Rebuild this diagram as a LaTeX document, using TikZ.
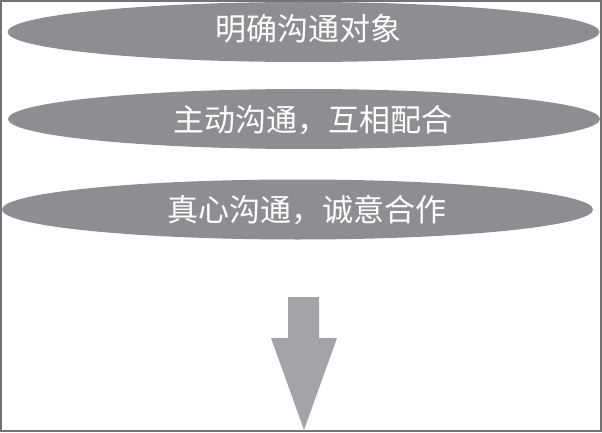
\documentclass[tikz,border=0pt]{standalone}
\usepackage{fontspec}
\newfontfamily\cjk{Noto Sans CJK SC}
\usepackage{tikz}
\usetikzlibrary{shapes}
\definecolor{ovalgray}{RGB}{141,142,146}
\definecolor{arrowgray}{RGB}{163,163,168}
\definecolor{framegray}{RGB}{115,115,115}
\tikzstyle{goal} = [ellipse, fill=ovalgray, minimum width=592pt, minimum height=60pt, inner sep=0pt, node distance=87pt]
\tikzstyle{goaltext} = [text=white, inner sep=0pt, font=\cjk\fontsize{31}{31}\selectfont]
\tikzstyle{downarrow} = [fill=arrowgray]

\begin{document}
\begin{tikzpicture}
\useasboundingbox (0,0) rectangle (602pt,432pt);
\draw [framegray, line width=2pt] (1pt,1pt) rectangle (601pt,431pt);

\node [goal] (obj) at (303.5pt,400pt) {};
\node [goal, below of = obj, xshift=0.5pt] (active) {};
\node [goal, below of = active, node distance = 90.5pt, xshift=-6.5pt, minimum width=591pt] (sincere) {};

\node [goaltext, xshift=4.5pt, yshift=3pt] (objtxt) at (obj) {明确沟通对象};
\node [goaltext, xshift=9pt, yshift=-1pt] (activetxt) at (active) {主动沟通，互相配合};
\node [goaltext, xshift=9.5pt, yshift=-0.5pt] (sinceretxt) at (sincere) {真心沟通，诚意合作};

\coordinate (tip) at (304pt,2pt);
\path [downarrow] (288pt,135pt) -- (319pt,135pt) -- (319pt,94pt) -- (337pt,94pt) -- (tip) -- (271pt,94pt) -- (288pt,94pt) -- cycle;

\end{tikzpicture}
\end{document}
